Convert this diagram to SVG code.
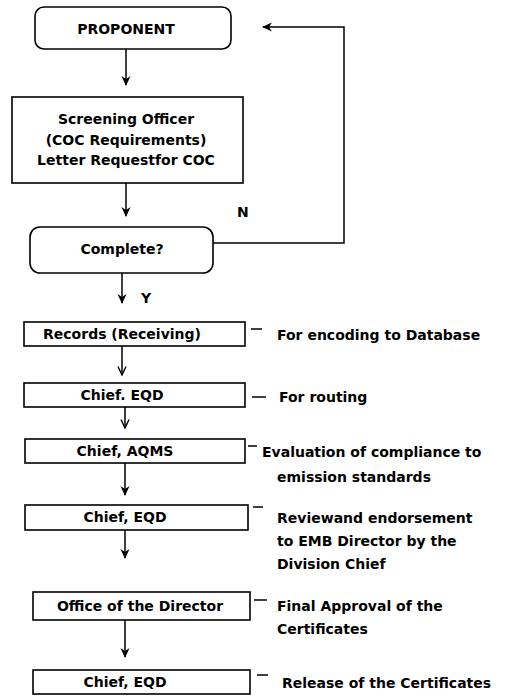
<svg xmlns="http://www.w3.org/2000/svg" width="506" height="700" viewBox="0 0 506 700">
  <style>
    .box { fill: #ffffff; stroke: #000000; stroke-width: 1.6; }
    .lbl { font-family: "DejaVu Sans", "Liberation Sans", sans-serif; font-weight: bold; font-size: 14px; fill: #000000; }
    .mid { text-anchor: middle; }
    .wire { fill: none; stroke: #000000; stroke-width: 1.5; }
  </style>
  <defs>
    <marker id="head" viewBox="0 0 10 10" refX="9" refY="5" markerWidth="10" markerHeight="10" markerUnits="userSpaceOnUse" orient="auto">
      <path d="M0,0.5 L10,5 L0,9.5 L3,5 Z" fill="#000000"/>
    </marker>
    <marker id="open" viewBox="0 0 10 10" refX="9.5" refY="5" markerWidth="10" markerHeight="10" markerUnits="userSpaceOnUse" orient="auto">
      <path d="M1,1 L9.5,5 L1,9" fill="none" stroke="#000000" stroke-width="1.4"/>
    </marker>
  </defs>

  <!-- connectors -->
  <g id="connectors">
    <line class="wire" x1="126" y1="49" x2="126" y2="85" marker-end="url(#head)"/>
    <line class="wire" x1="126" y1="183" x2="126" y2="216" marker-end="url(#head)"/>
    <polyline class="wire" points="213,243 344,243 344,27 263,27" marker-end="url(#head)"/>
    <line class="wire" x1="122" y1="273" x2="122" y2="303" marker-end="url(#head)"/>
    <line class="wire" x1="122" y1="346" x2="122" y2="375" marker-end="url(#open)"/>
    <line class="wire" x1="125" y1="407" x2="125" y2="428" marker-end="url(#open)"/>
    <line class="wire" x1="125" y1="463" x2="125" y2="495" marker-end="url(#head)"/>
    <line class="wire" x1="125" y1="530" x2="125" y2="558" marker-end="url(#head)"/>
    <line class="wire" x1="125" y1="620" x2="125" y2="657" marker-end="url(#head)"/>
    <!-- short leaders to the side notes -->
    <line class="wire" x1="251" y1="329" x2="262" y2="329"/>
    <line class="wire" x1="252" y1="397" x2="266" y2="397"/>
    <line class="wire" x1="248" y1="446" x2="257" y2="446"/>
    <line class="wire" x1="253" y1="507" x2="263" y2="507"/>
    <line class="wire" x1="254" y1="600" x2="267" y2="600"/>
    <line class="wire" x1="257" y1="675" x2="268" y2="675"/>
  </g>

  <g id="proponent">
    <rect class="box" x="35" y="7" width="196" height="42" rx="9"/>
    <text class="lbl mid" x="126" y="34">PROPONENT</text>
  </g>

  <g id="screening">
    <rect class="box" x="12" y="97" width="231" height="86"/>
    <text class="lbl mid" x="126" y="124">Screening Officer</text>
    <text class="lbl mid" x="126" y="145">(COC Requirements)</text>
    <text class="lbl mid" x="126" y="165">Letter Requestfor COC</text>
  </g>

  <g id="complete">
    <rect class="box" x="30" y="227" width="183" height="46" rx="10"/>
    <text class="lbl mid" x="122" y="254">Complete?</text>
    <text class="lbl" x="237" y="217">N</text>
    <text class="lbl" x="141" y="303">Y</text>
  </g>

  <g id="records">
    <rect class="box" x="24" y="322" width="221" height="24"/>
    <text class="lbl mid" x="122" y="339">Records (Receiving)</text>
    <text class="lbl" x="277" y="340">For encoding to Database</text>
  </g>

  <g id="chief-eqd-1">
    <rect class="box" x="24" y="383" width="221" height="24"/>
    <text class="lbl mid" x="122" y="400">Chief. EQD</text>
    <text class="lbl" x="279" y="402">For routing</text>
  </g>

  <g id="chief-aqms">
    <rect class="box" x="25" y="439" width="220" height="24"/>
    <text class="lbl mid" x="125" y="456">Chief, AQMS</text>
    <text class="lbl" x="262" y="457">Evaluation of compliance to</text>
    <text class="lbl" x="277" y="482">emission standards</text>
  </g>

  <g id="chief-eqd-2">
    <rect class="box" x="25" y="505" width="223" height="25"/>
    <text class="lbl mid" x="125" y="522">Chief, EQD</text>
    <text class="lbl" x="277" y="523">Reviewand endorsement</text>
    <text class="lbl" x="277" y="546">to EMB Director by the</text>
    <text class="lbl" x="277" y="569">Division Chief</text>
  </g>

  <g id="director">
    <rect class="box" x="33" y="592" width="217" height="28"/>
    <text class="lbl mid" x="140" y="611">Office of the Director</text>
    <text class="lbl" x="277" y="611">Final Approval of the</text>
    <text class="lbl" x="277" y="634">Certificates</text>
  </g>

  <g id="chief-eqd-3">
    <rect class="box" x="33" y="670" width="217" height="24"/>
    <text class="lbl mid" x="125" y="687">Chief, EQD</text>
    <text class="lbl" x="282" y="688">Release of the Certificates</text>
  </g>
</svg>
